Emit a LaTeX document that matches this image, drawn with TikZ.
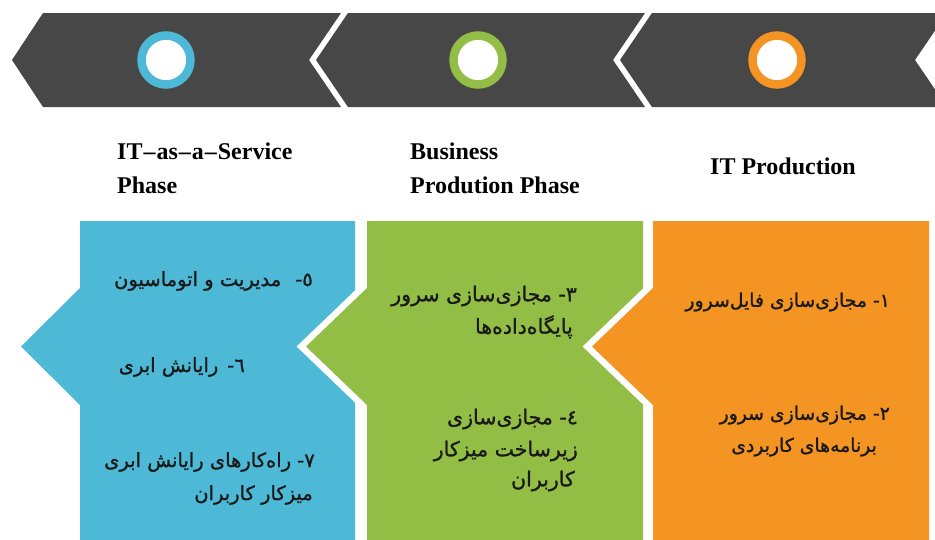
\documentclass[tikz,border=0pt]{standalone}
\usepackage{fontspec}
\setmainfont{Liberation Serif}
\newfontfamily\arabicfont[Script=Arabic, FakeBold=1.2]{DejaVu Sans}
\TeXXeTstate=1
\definecolor{band}{HTML}{474747}
\definecolor{cblue}{HTML}{4DB9D6}
\definecolor{cgreen}{HTML}{93BE45}
\definecolor{corange}{HTML}{F49422}
\definecolor{ink}{HTML}{1A1A1A}
\tikzset{
  chev/.style={fill=band},
  ring/.style={circle, minimum size=49pt, inner sep=0pt, line width=8.5pt, draw=#1, fill=white},
  panel/.style={fill=#1, preaction={draw=white, line width=13pt, line join=miter}},
  head/.style={font=\bfseries\fontsize{24}{34}\selectfont, text=black, align=left, anchor=west, inner sep=0pt},
  fa/.style={font=\arabicfont\fontsize{#1}{20}\selectfont, text=ink, anchor=east, inner sep=0pt}
}
\begin{document}
\begin{tikzpicture}[x=1pt,y=-1pt]
\useasboundingbox (0,0) rectangle (935,539);
% top chevron band
\fill[chev] (43,13) -- (341,13) -- (309,60) -- (341,107) -- (43,107) -- (12,60) -- cycle;
\fill[chev] (348,13) -- (645,13) -- (613,60) -- (645,107) -- (348,107) -- (316,60) -- cycle;
\fill[chev] (652,13) -- (947,13) -- (915,60) -- (947,107) -- (652,107) -- (620,60) -- cycle;
\node[ring=cblue] (c1) at (166,60) {};
\node[ring=cgreen] (c2) at (478,60) {};
\node[ring=corange] (c3) at (777,60) {};
% headers
\node[head] (h1) at (117,168) {IT\kern1pt–\kern1pt as\kern1pt–\kern1pt a\kern1pt–\kern1pt Service\\Phase};
\node[head] (h2) at (410,168) {Business\\Prodution Phase};
\node[head] (h3) at (710,166) {IT Production};
% panels
\path[panel=cblue] (80,221) -- (355,221) -- (355,545) -- (80,545) -- (80,405) -- (21,346.5) -- (80,288) -- cycle;
\path[panel=cgreen] (367,221) -- (643,221) -- (643,545) -- (367,545) -- (367,405) -- (306,346.5) -- (367,288) -- cycle;
\path[panel=corange] (653,221) -- (929,221) -- (929,545) -- (653,545) -- (653,405) -- (592,346.5) -- (653,288) -- cycle;
% blue texts
\node[fa=19.5] (t5) at (313,281) {\beginR ٥-\hspace{14pt}مدیریت و اتوماسیون\endR};
\node[fa=19.5] (t6) at (245,367) {\beginR ٦-\hspace{9pt}رایانش ابری\endR};
\node[fa=19.5] (t7a) at (315,462) {\beginR ٧- راه‌کارهای رایانش ابری\endR};
\node[fa=19.5] (t7b) at (313,495) {\beginR میزکار کاربران\endR};
% green texts
\node[fa=20.5] (t3a) at (577,296) {\beginR ٣- مجازی‌سازی سرور\endR};
\node[fa=20.5] (t3b) at (573,327) {\beginR پایگاه‌داده‌ها\endR};
\node[fa=20.5] (t4a) at (578,419) {\beginR ٤- مجازی‌سازی\endR};
\node[fa=20.5] (t4b) at (578,451) {\beginR زیرساخت میزکار\endR};
\node[fa=20.5] (t4c) at (575,481) {\beginR کاربران\endR};
% orange texts
\node[fa=18.8] (t1) at (890,302) {\beginR ١- مجازی‌سازی فایل‌سرور\endR};
\node[fa=18.8] (t2a) at (890,415) {\beginR ٢- مجازی‌سازی سرور\endR};
\node[fa=18.8] (t2b) at (877,447) {\beginR برنامه‌های کاربردی\endR};
\end{tikzpicture}
\end{document}
